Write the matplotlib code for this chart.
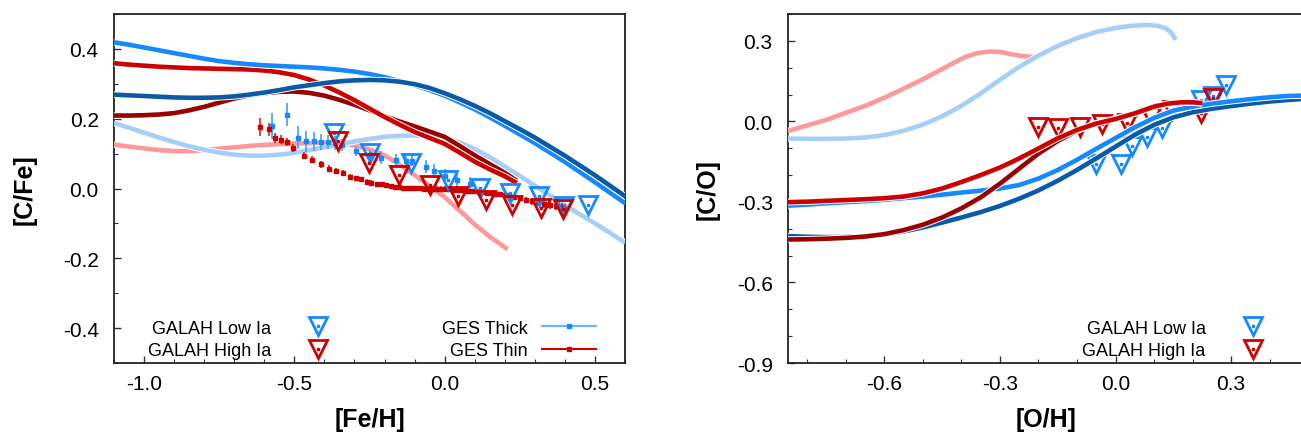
import matplotlib
matplotlib.use("Agg")
import matplotlib.pyplot as plt
import matplotlib.patheffects as pe
from matplotlib.lines import Line2D
from matplotlib.ticker import MultipleLocator

plt.rcParams['font.family'] = ['Liberation Sans', 'DejaVu Sans']

# ---------------- Left panel data: [C/Fe] vs [Fe/H] ----------------
feh_grid = [-1.1, -1.05, -1.0, -0.95, -0.9, -0.85, -0.8, -0.75, -0.7, -0.65, -0.6, -0.55, -0.5, -0.45,
            -0.4, -0.35, -0.3, -0.25, -0.2, -0.15, -0.1, -0.05, 0.0, 0.05, 0.1, 0.15, 0.2, 0.25,
            0.3, 0.35, 0.4, 0.45, 0.5, 0.55, 0.6]
cfe_brightblue = [0.419, 0.412, 0.404, 0.396, 0.388, 0.380, 0.372, 0.365, 0.360, 0.356, 0.353, 0.351, 0.349, 0.347,
                  0.344, 0.340, 0.335, 0.328, 0.319, 0.308, 0.296, 0.282, 0.266, 0.247, 0.227, 0.204, 0.180, 0.155,
                  0.130, 0.103, 0.076, 0.047, 0.018, -0.012, -0.042]
cfe_darkblue = [0.269, 0.267, 0.265, 0.263, 0.261, 0.260, 0.260, 0.261, 0.264, 0.269, 0.275, 0.282, 0.290, 0.296,
                0.302, 0.307, 0.310, 0.311, 0.310, 0.306, 0.299, 0.288, 0.273, 0.256, 0.237, 0.216, 0.193, 0.170,
                0.146, 0.120, 0.094, 0.066, 0.038, 0.008, -0.022]
cfe_lightblue = [0.188, 0.174, 0.160, 0.146, 0.133, 0.121, 0.111, 0.103, 0.097, 0.094, 0.094, 0.097, 0.102, 0.110,
                 0.118, 0.127, 0.135, 0.142, 0.148, 0.151, 0.152, 0.150, 0.145, 0.132, 0.113, 0.090, 0.063, 0.036,
                 0.008, -0.020, -0.048, -0.074, -0.100, -0.127, -0.155]

feh_red = [-1.1, -1.05, -1.0, -0.95, -0.9, -0.85, -0.8, -0.75, -0.7, -0.65, -0.6, -0.55, -0.5, -0.45,
           -0.4, -0.35, -0.3, -0.25, -0.2, -0.15, -0.1, -0.05, 0.0, 0.05, 0.1, 0.15, 0.2, 0.24]
cfe_red = [0.359, 0.355, 0.352, 0.349, 0.347, 0.345, 0.344, 0.343, 0.342, 0.341, 0.338, 0.333, 0.325, 0.312,
           0.295, 0.275, 0.253, 0.229, 0.205, 0.183, 0.162, 0.145, 0.128, 0.103, 0.077, 0.055, 0.035, 0.016]
cfe_darkred = [0.209, 0.209, 0.210, 0.212, 0.216, 0.224, 0.234, 0.246, 0.258, 0.267, 0.273, 0.277, 0.278, 0.274,
               0.266, 0.254, 0.240, 0.224, 0.207, 0.192, 0.178, 0.163, 0.148, 0.122, 0.095, 0.070, 0.045, 0.022]

feh_pink = [-1.1, -1.05, -1.0, -0.95, -0.9, -0.85, -0.8, -0.75, -0.7, -0.65, -0.6, -0.55, -0.5, -0.45,
            -0.4, -0.35, -0.3, -0.25, -0.2, -0.15, -0.1, -0.05, 0.0, 0.05, 0.1, 0.15, 0.21]
cfe_pink = [0.126, 0.120, 0.115, 0.110, 0.107, 0.107, 0.110, 0.114, 0.118, 0.122, 0.125, 0.127, 0.129, 0.130,
            0.131, 0.130, 0.124, 0.112, 0.095, 0.068, 0.038, 0.007, -0.025, -0.063, -0.103, -0.138, -0.174]

galah_low_feh = [-0.369, -0.250, -0.111, 0.011, 0.116, 0.216, 0.315, 0.398, 0.476]
galah_low_cfe = [0.159, 0.102, 0.073, 0.024, 0.002, -0.014, -0.022, -0.050, -0.046]
galah_high_feh = [-0.355, -0.252, -0.152, -0.050, 0.044, 0.136, 0.223, 0.321, 0.393]
galah_high_cfe = [0.135, 0.073, 0.040, 0.011, -0.022, -0.033, -0.046, -0.055, -0.060]

ges_thick_feh = [-0.574, -0.526, -0.488, -0.460, -0.435, -0.410, -0.388, -0.366, -0.340, -0.296, -0.250,
                 -0.211, -0.163, -0.130, -0.110, -0.063, -0.034, 0.000, 0.040, 0.083]
ges_thick_cfe = [0.180, 0.211, 0.145, 0.135, 0.135, 0.133, 0.133, 0.130, 0.125, 0.107, 0.095,
                 0.088, 0.083, 0.079, 0.080, 0.062, 0.050, 0.035, 0.025, 0.014]
ges_thick_err = [0.037, 0.033, 0.033, 0.029, 0.028, 0.024, 0.020, 0.020, 0.018, 0.014, 0.015,
                 0.019, 0.017, 0.016, 0.016, 0.019, 0.021, 0.020, 0.020, 0.020]

ges_thin_feh = [-0.614, -0.584, -0.564, -0.543, -0.524, -0.504, -0.469, -0.441, -0.411, -0.385,
                -0.360, -0.338, -0.314, -0.294, -0.277, -0.258, -0.244, -0.224, -0.209, -0.194,
                -0.180, -0.166, -0.152, -0.139, -0.125, -0.111, -0.097, -0.083, -0.069, -0.055,
                -0.041, -0.027, -0.013, 0.001, 0.015, 0.029, 0.043, 0.057, 0.071, 0.085,
                0.099, 0.113, 0.127, 0.141, 0.155, 0.170, 0.185, 0.200, 0.215, 0.232,
                0.250, 0.270, 0.290, 0.310, 0.330, 0.350, 0.370, 0.390, 0.400]
ges_thin_cfe = [0.176, 0.170, 0.145, 0.140, 0.133, 0.116, 0.094, 0.083, 0.069, 0.057,
                0.051, 0.045, 0.033, 0.030, 0.026, 0.019, 0.017, 0.013, 0.012, 0.010,
                0.007, 0.005, 0.003, 0.002, 0.002, 0.001, 0.001, 0.001, 0.000, 0.000,
                0.000, 0.000, 0.000, 0.000, -0.002, -0.003, -0.004, -0.005, -0.006, -0.006,
                -0.008, -0.009, -0.010, -0.012, -0.013, -0.015, -0.017, -0.019, -0.022, -0.025,
                -0.028, -0.032, -0.036, -0.040, -0.044, -0.047, -0.050, -0.053, -0.058]
ges_thin_err = [0.026, 0.019, 0.015, 0.013, 0.012, 0.011, 0.010, 0.010, 0.009, 0.009,
                0.008, 0.008, 0.008, 0.007, 0.007, 0.007, 0.007, 0.007, 0.007, 0.007,
                0.007, 0.006, 0.006, 0.006, 0.006, 0.006, 0.006, 0.006, 0.006, 0.006,
                0.006, 0.006, 0.006, 0.006, 0.006, 0.006, 0.006, 0.006, 0.006, 0.006,
                0.007, 0.007, 0.007, 0.007, 0.007, 0.007, 0.008, 0.008, 0.008, 0.008,
                0.009, 0.009, 0.010, 0.010, 0.011, 0.011, 0.012, 0.012, 0.013]

# ---------------- Right panel data: [C/O] vs [O/H] ----------------
oh_pink = [-0.85, -0.80, -0.75, -0.70, -0.65, -0.60, -0.55, -0.50, -0.45, -0.42, -0.39, -0.36, -0.33,
           -0.30, -0.27, -0.24, -0.213]
co_pink = [-0.036, -0.015, 0.006, 0.032, 0.058, 0.088, 0.122, 0.157, 0.195, 0.218, 0.240, 0.254, 0.260,
           0.259, 0.250, 0.243, 0.240]

oh_lightblue = [-0.85, -0.80, -0.75, -0.70, -0.65, -0.60, -0.55, -0.50, -0.45, -0.40, -0.35, -0.30, -0.25,
                -0.20, -0.15, -0.10, -0.05, 0.0, 0.04, 0.08, 0.11, 0.13, 0.145, 0.156]
co_lightblue = [-0.064, -0.065, -0.065, -0.064, -0.060, -0.051, -0.035, -0.012, 0.019, 0.058, 0.104, 0.155, 0.203,
                0.245, 0.281, 0.310, 0.333, 0.348, 0.356, 0.359, 0.356, 0.347, 0.330, 0.304]

oh_blue = [-0.85, -0.80, -0.75, -0.70, -0.65, -0.60, -0.55, -0.50, -0.45, -0.40, -0.35, -0.30, -0.25, -0.20,
           -0.15, -0.10, -0.05, 0.0, 0.05, 0.10, 0.15, 0.20, 0.25, 0.30, 0.35, 0.40, 0.45, 0.49]
co_brightblue = [-0.314, -0.310, -0.305, -0.301, -0.297, -0.292, -0.286, -0.280, -0.273, -0.265, -0.258, -0.250,
                 -0.237, -0.213, -0.181, -0.143, -0.102, -0.062, -0.022, 0.013, 0.040, 0.055, 0.066, 0.075,
                 0.083, 0.090, 0.095, 0.096]
co_darkblue = [-0.427, -0.430, -0.431, -0.431, -0.428, -0.421, -0.410, -0.395, -0.377, -0.358, -0.338, -0.315,
               -0.288, -0.257, -0.221, -0.181, -0.138, -0.094, -0.050, -0.013, 0.015, 0.034, 0.047, 0.057,
               0.066, 0.074, 0.080, 0.084]

oh_red = [-0.85, -0.80, -0.75, -0.70, -0.65, -0.60, -0.55, -0.50, -0.45, -0.40, -0.35, -0.30, -0.25, -0.20,
          -0.15, -0.10, -0.05, 0.0, 0.05, 0.10, 0.135, 0.17, 0.20, 0.225]
co_red = [-0.301, -0.299, -0.296, -0.293, -0.290, -0.286, -0.280, -0.268, -0.250, -0.226, -0.200, -0.172, -0.138,
          -0.101, -0.063, -0.032, -0.008, 0.009, 0.030, 0.055, 0.066, 0.071, 0.071, 0.068]
co_darkred = [-0.440, -0.439, -0.437, -0.434, -0.429, -0.420, -0.405, -0.385, -0.358, -0.324, -0.283, -0.232,
              -0.176, -0.120, -0.073, -0.035, -0.007, 0.010, 0.030, 0.055, 0.065, 0.069, 0.070, 0.067]

galah_low_oh = [-0.052, 0.013, 0.043, 0.081, 0.121, 0.221, 0.252, 0.286]
galah_low_co = [-0.159, -0.159, -0.091, -0.060, -0.024, 0.081, 0.094, 0.137]
galah_high_oh = [-0.200, -0.149, -0.091, -0.035, 0.030, 0.091, 0.147, 0.221, 0.252]
galah_high_co = [-0.021, -0.026, -0.021, -0.011, -0.005, 0.017, 0.044, 0.032, 0.088]

# ---------------- Styles ----------------
C_BBLUE = '#1589ff'
C_DBLUE = '#0b5aa8'
C_LBLUE = '#a6cff7'
C_RED = '#cc0000'
C_DRED = '#990000'
C_PINK = '#ff9999'
LW = 3.3
outline = [pe.Stroke(linewidth=LW + 1.4, foreground='white'), pe.Normal()]

fig = plt.figure(figsize=(13.01, 4.35), dpi=100)
W, H = 1301, 435
axL = fig.add_axes([114 / W, 1 - 364 / H, (625 - 114) / W, (364 - 15) / H])
axR = fig.add_axes([788 / W, 1 - 364 / H, (1301 - 788) / W + 0.002, (364 - 15) / H])


def style_axes(ax):
    for s in ax.spines.values():
        s.set_color('#222222')
        s.set_linewidth(1.3)
    ax.tick_params(which='both', direction='in', top=False, right=False, labelsize=15,
                   colors='#333333', labelcolor='black')
    ax.tick_params(which='major', length=5, width=1.0)
    ax.tick_params(which='minor', length=3, width=0.8)
    ax.tick_params(axis='y', pad=11)
    ax.tick_params(axis='x', pad=8)


def curve(ax, x, y, color, z=3):
    ax.plot(x, y, color=color, lw=LW, solid_capstyle='butt', solid_joinstyle='round',
            zorder=z, path_effects=outline)


def galah(ax, x, y, color, z):
    tri, = ax.plot(x, y, linestyle='none', marker='v', ms=12.5, mfc='none', mec=color, mew=2.0, zorder=z)
    dot, = ax.plot(x, y, linestyle='none', marker='s', ms=1.8, mfc=color, mec=color, zorder=z)
    return (tri, dot)


# ---------------- Left panel ----------------
style_axes(axL)
h_low = galah(axL, galah_low_feh, galah_low_cfe, C_BBLUE, 4)
h_high = galah(axL, galah_high_feh, galah_high_cfe, C_RED, 4)

axL.errorbar(ges_thick_feh, ges_thick_cfe, yerr=ges_thick_err, fmt='s', ms=3, color=C_BBLUE,
             ecolor='#4da6ff', elinewidth=1.3, capsize=0, zorder=3.5)
axL.errorbar(ges_thin_feh, ges_thin_cfe, yerr=ges_thin_err, fmt='s', ms=3, color=C_RED,
             ecolor='#dd3333', elinewidth=1.3, capsize=0, zorder=3.6)

curve(axL, feh_pink, cfe_pink, C_PINK, 2.6)
curve(axL, feh_grid, cfe_lightblue, C_LBLUE, 3)
curve(axL, feh_red, cfe_darkred, C_DRED, 3)
curve(axL, feh_red, cfe_red, C_RED, 3.1)
curve(axL, feh_grid, cfe_brightblue, C_BBLUE, 3.2)
curve(axL, feh_grid, cfe_darkblue, C_DBLUE, 3.3)

axL.set_xlim(-1.1, 0.6)
axL.set_ylim(-0.5, 0.5)
axL.xaxis.set_minor_locator(MultipleLocator(0.1))
axL.yaxis.set_minor_locator(MultipleLocator(0.1))
axL.set_xticks([-1.0, -0.5, 0.0, 0.5])
axL.set_xticklabels(['-1.0', '-0.5', '0.0', '0.5'])
axL.set_yticks([-0.4, -0.2, 0.0, 0.2, 0.4])
axL.set_yticklabels(['-0.4', '-0.2', '0.0', '0.2', '0.4'])
axL.set_xlabel('[Fe/H]', fontsize=18, fontweight='bold', labelpad=10)
axL.set_ylabel('[C/Fe]', fontsize=18, fontweight='bold', labelpad=19)

legL1 = axL.legend([h_low, h_high], ['GALAH Low Ia', 'GALAH High Ia'], loc='lower left',
                   bbox_to_anchor=(0.045, -0.02), markerfirst=False, frameon=False, fontsize=13,
                   handlelength=2.0, handletextpad=1.6, labelspacing=0.3, borderaxespad=0.2)
axL.add_artist(legL1)
ges_thick_h = Line2D([], [], color='#66b3ff', lw=1.5, marker='s', ms=3.5, mfc=C_BBLUE, mec=C_BBLUE)
ges_thin_h = Line2D([], [], color=C_RED, lw=1.5, marker='s', ms=3.5, mfc=C_RED, mec=C_RED)
axL.legend([ges_thick_h, ges_thin_h], ['GES Thick', 'GES Thin'], loc='lower right',
           bbox_to_anchor=(0.965, -0.02), markerfirst=False, frameon=False, fontsize=13,
           handlelength=3.0, handletextpad=0.8, labelspacing=0.3, borderaxespad=0.2, numpoints=1)

# ---------------- Right panel ----------------
style_axes(axR)
r_low = galah(axR, galah_low_oh, galah_low_co, C_BBLUE, 2.5)
r_high = galah(axR, galah_high_oh, galah_high_co, C_RED, 2.5)

curve(axR, oh_pink, co_pink, C_PINK, 2.6)
curve(axR, oh_lightblue, co_lightblue, C_LBLUE, 2.7)
curve(axR, oh_blue, co_darkblue, C_DBLUE, 3)
curve(axR, oh_blue, co_brightblue, C_BBLUE, 3.1)
curve(axR, oh_red, co_darkred, C_DRED, 3.2)
curve(axR, oh_red, co_red, C_RED, 3.3)

axR.set_xlim(-0.85, 0.488)
axR.set_ylim(-0.9, 0.4)
axR.xaxis.set_minor_locator(MultipleLocator(0.1))
axR.yaxis.set_minor_locator(MultipleLocator(0.1))
axR.set_xticks([-0.6, -0.3, 0.0, 0.3])
axR.set_xticklabels(['-0.6', '-0.3', '0.0', '0.3'])
axR.set_yticks([-0.9, -0.6, -0.3, 0.0, 0.3])
axR.set_yticklabels(['-0.9', '-0.6', '-0.3', '0.0', '0.3'])
axR.set_xlabel('[O/H]', fontsize=18, fontweight='bold', labelpad=10)
axR.set_ylabel('[C/O]', fontsize=18, fontweight='bold', labelpad=12)

axR.legend([r_low, r_high], ['GALAH Low Ia', 'GALAH High Ia'], loc='lower right',
           bbox_to_anchor=(0.957, -0.02), markerfirst=False, frameon=False, fontsize=13,
           handlelength=2.0, handletextpad=1.6, labelspacing=0.3, borderaxespad=0.2)

fig.savefig('out.png', dpi=100)
